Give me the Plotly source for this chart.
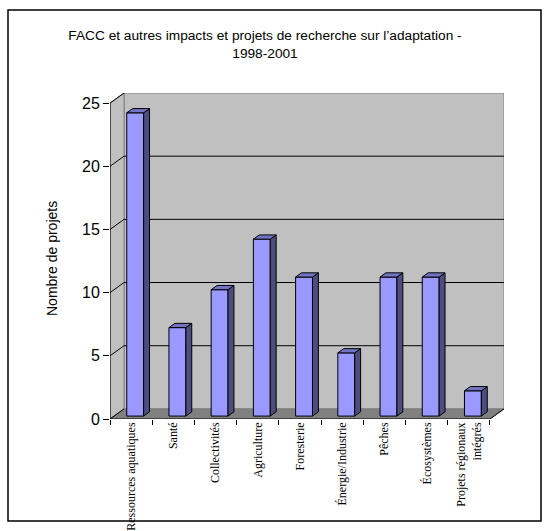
import plotly.graph_objects as go

# Research projects by sector, 1998-2001
categories = [
    "Ressources aquatiques", "Santé", "Collectivités", "Agriculture",
    "Foresterie", "Énergie/Industrie", "Pêches", "Écosystèmes",
    "Projets régionaux<br>intégrés",
]
projects = [24, 7, 10, 14, 11, 5, 11, 11, 2]
y_ticks = [0, 5, 10, 15, 20, 25]

title_text = "FACC et autres impacts et projets de recherche sur l\u2019adaptation -<br>1998-2001"
y_title = "Nombre de projets"

# Pseudo-3D geometry (axis units)
n = len(categories)
y_max = y_ticks[-1]
DX = 0.333          # depth shift along x (categories)
DY = 0.80           # depth shift along y (values)
BAR_W = 0.4
F0, F1 = 0.29, 0.71  # front / back depth fractions of each bar

FRONT = "#9999FF"
SIDE = "#4D4D80"
TOP = "#7373C6"
WALL = "#C0C0C0"
FLOOR = "#808080"
EDGE = "#808080"

# plot-area pixel frame
L, R, T, B = 110, 504, 93, 419
W, H = 550, 531

x_lo, x_hi = -0.5, n - 0.5 + DX
y_lo, y_hi = 0, y_max + DY

fig = go.Figure()

# Front faces of the bars
fig.add_trace(go.Bar(
    x=list(range(n)), y=projects,
    base=[F0 * DY] * n,
    width=BAR_W, offset=-BAR_W / 2 + F0 * DX,
    marker=dict(color=FRONT, line=dict(color="black", width=1)),
    hoverinfo="skip", showlegend=False,
))

shapes = []


def poly(pts, fill, line_color, line_width=1, layer="below"):
    path = "M " + " L ".join(f"{x},{y}" for x, y in pts) + " Z"
    shapes.append(dict(type="path", path=path, xref="x", yref="y",
                       fillcolor=fill, line=dict(color=line_color, width=line_width),
                       layer=layer))


def seg(x0, y0, x1, y1, color, width=1, layer="below"):
    shapes.append(dict(type="line", x0=x0, y0=y0, x1=x1, y1=y1, xref="x", yref="y",
                       line=dict(color=color, width=width), layer=layer))


left, right = -0.5, n - 0.5

# back wall
poly([(left + DX, DY), (right + DX, DY), (right + DX, y_max + DY), (left + DX, y_max + DY)],
     WALL, EDGE)
# side wall
poly([(left, 0), (left + DX, DY), (left + DX, y_max + DY), (left, y_max)], WALL, EDGE)
# floor
poly([(left, 0), (right, 0), (right + DX, DY), (left + DX, DY)], FLOOR, FLOOR)

# gridlines on the back wall and side wall
for v in y_ticks:
    if 0 < v < y_max:
        seg(left + DX, v + DY, right + DX, v + DY, "black")
    seg(left, v, left + DX, v + DY, "black")

# front axis lines and floor edge
seg(left, 0, right, 0, "black")
seg(right, 0, right + DX, DY, "black")
seg(left, 0, left, y_max, "black")

# side and top faces of each bar
for i, v in enumerate(projects):
    xl = i - BAR_W / 2
    xr = i + BAR_W / 2
    poly([(xr + F0 * DX, F0 * DY), (xr + F1 * DX, F1 * DY),
          (xr + F1 * DX, v + F1 * DY), (xr + F0 * DX, v + F0 * DY)],
         SIDE, "black", layer="above")
    poly([(xl + F0 * DX, v + F0 * DY), (xr + F0 * DX, v + F0 * DY),
          (xr + F1 * DX, v + F1 * DY), (xl + F1 * DX, v + F1 * DY)],
         TOP, "black", layer="above")

# outer chart border
px = lambda p: (p - L) / (R - L)
py = lambda p: (B - p) / (B - T)
shapes.append(dict(type="rect", xref="paper", yref="paper",
                   x0=px(8), x1=px(541), y0=py(521), y1=py(10),
                   line=dict(color="black", width=1.5), layer="above"))

fig.update_layout(
    width=W, height=H,
    margin=dict(l=L, r=W - R, t=T, b=H - B, pad=0, autoexpand=False),
    paper_bgcolor="white", plot_bgcolor="white",
    showlegend=False,
    shapes=shapes,
    title=dict(text=title_text, xref="container", yref="container",
               x=265 / W, xanchor="center", y=1 - 40 / H, yanchor="top",
               font=dict(family="Liberation Sans, Arial", size=13.7, color="black")),
    xaxis=dict(
        range=[x_lo, x_hi], tickmode="array", tickvals=list(range(n)),
        ticktext=categories, tickangle=-90, ticks="", showgrid=False,
        zeroline=False, showline=False, automargin=False,
        tickfont=dict(family="Liberation Serif, Times New Roman", size=12, color="black"),
    ),
    xaxis2=dict(
        overlaying="x", range=[x_lo, x_hi], tickmode="array",
        tickvals=[k - 0.5 for k in range(n + 1)], ticks="outside", ticklen=5,
        tickcolor="black", showticklabels=False, showgrid=False, zeroline=False,
        showline=False, side="bottom", anchor="y", automargin=False,
    ),
    yaxis=dict(
        range=[y_lo, y_hi], tickmode="array", tickvals=y_ticks,
        ticks="outside", ticklen=6, tickcolor="black", showgrid=False,
        zeroline=False, showline=False, automargin=False,
        tickfont=dict(family="Liberation Sans, Arial", size=16, color="black"),
    ),
    annotations=[dict(
        text=y_title, xref="paper", yref="paper", x=px(52), y=py(259),
        textangle=-90, showarrow=False, xanchor="center", yanchor="middle",
        font=dict(family="Liberation Sans, Arial", size=14, color="black"),
    )],
)

# invisible trace to activate the tick-mark axis
fig.add_trace(go.Scatter(x=[x_lo], y=[0], xaxis="x2", mode="markers",
                         marker=dict(opacity=0), hoverinfo="skip", showlegend=False))

fig.write_html("out.html")
